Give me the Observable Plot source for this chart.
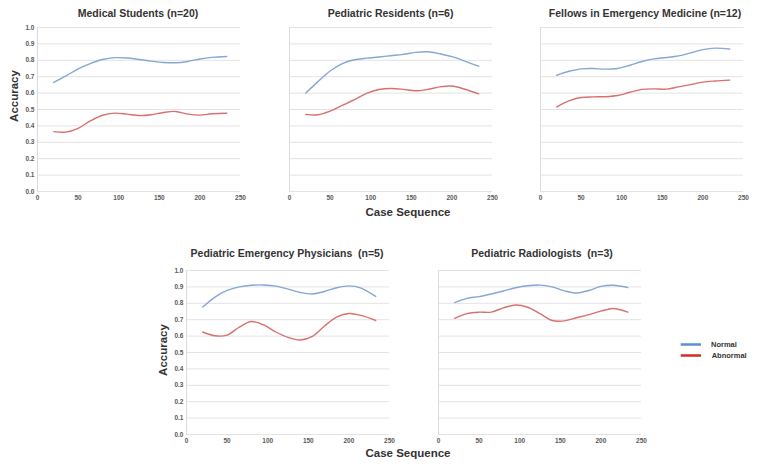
<!DOCTYPE html>
<html>
<head>
<meta charset="utf-8">
<script src="https://cdn.jsdelivr.net/npm/d3@7"></script>
<script src="https://cdn.jsdelivr.net/npm/@observablehq/plot@0.6"></script>
<style>
  html, body { margin: 0; padding: 0; background: #fff; }
  #root { position: relative; width: 763px; height: 468px; overflow: hidden; font-family: "Liberation Sans", Arial, sans-serif; }
  .title { position: absolute; font-weight: bold; font-size: 10.5px; color: #333; white-space: pre; transform: translate(-50%, -50%); }
  .axlab { position: absolute; font-weight: bold; font-size: 11.5px; color: #333; white-space: nowrap; }
</style>
</head>
<body>
<div id="root"></div>
<script>
// ---- Data ----
const caseSeq = [20, 35, 50, 65, 80, 95, 110, 125, 140, 155, 170, 185, 200, 215, 233];
const xTicks = [0, 50, 100, 150, 200, 250];
const yTicks = [0, 0.1, 0.2, 0.3, 0.4, 0.5, 0.6, 0.7, 0.8, 0.9, 1.0];
const seriesNames = ["Normal", "Abnormal"];
const panelTitles = [
  "Medical Students (n=20)",
  "Pediatric Residents (n=6)",
  "Fellows in Emergency Medicine (n=12)",
  "Pediatric Emergency Physicians  (n=5)",
  "Pediatric Radiologists  (n=3)"
];
const medStudentsNormal   = [0.665, 0.705, 0.748, 0.780, 0.805, 0.816, 0.814, 0.805, 0.795, 0.787, 0.785, 0.793, 0.808, 0.818, 0.823];
const medStudentsAbnormal = [0.365, 0.362, 0.385, 0.430, 0.465, 0.478, 0.472, 0.463, 0.468, 0.482, 0.488, 0.472, 0.466, 0.474, 0.477];
const residentsNormal     = [0.600, 0.670, 0.735, 0.780, 0.803, 0.813, 0.820, 0.828, 0.836, 0.848, 0.852, 0.840, 0.822, 0.797, 0.764];
const residentsAbnormal   = [0.470, 0.468, 0.490, 0.525, 0.560, 0.598, 0.622, 0.628, 0.623, 0.614, 0.622, 0.638, 0.643, 0.625, 0.595];
const fellowsNormal       = [0.709, 0.733, 0.748, 0.750, 0.746, 0.750, 0.770, 0.793, 0.809, 0.817, 0.827, 0.845, 0.865, 0.874, 0.869];
const fellowsAbnormal     = [0.516, 0.553, 0.573, 0.577, 0.578, 0.585, 0.605, 0.623, 0.626, 0.624, 0.638, 0.652, 0.667, 0.674, 0.679];
const pemNormal           = [0.777, 0.838, 0.879, 0.900, 0.910, 0.912, 0.905, 0.886, 0.866, 0.857, 0.872, 0.895, 0.906, 0.893, 0.842];
const pemAbnormal         = [0.625, 0.602, 0.606, 0.655, 0.689, 0.668, 0.625, 0.592, 0.576, 0.598, 0.662, 0.716, 0.738, 0.726, 0.695];
const radiologistsNormal  = [0.804, 0.830, 0.841, 0.857, 0.875, 0.895, 0.907, 0.911, 0.900, 0.876, 0.863, 0.878, 0.903, 0.910, 0.896];
const radiologistsAbnormal= [0.708, 0.737, 0.746, 0.746, 0.772, 0.790, 0.776, 0.737, 0.695, 0.693, 0.712, 0.731, 0.752, 0.768, 0.746];

// ---- Layout ----
const lineColors = {Normal: "#86a6d4", Abnormal: "#d9706f"};
const legendColors = {Normal: "#5b8ed8", Abnormal: "#d42a2a"};
const ML = 30, MT = 8, MR = 8, MB = 18, FW = 203, FH = 164;

const panels = [
  {title: panelTitles[0], normal: medStudentsNormal, abnormal: medStudentsAbnormal, left: 36.7, top: 27, yLabels: true, tx: 138, ty: 13},
  {title: panelTitles[1], normal: residentsNormal, abnormal: residentsAbnormal, left: 288.7, top: 27, yLabels: false, tx: 390.5, ty: 13},
  {title: panelTitles[2], normal: fellowsNormal, abnormal: fellowsAbnormal, left: 540, top: 27, yLabels: false, tx: 645, ty: 13},
  {title: panelTitles[3], normal: pemNormal, abnormal: pemAbnormal, left: 185.7, top: 270, yLabels: true, tx: 287, ty: 253},
  {title: panelTitles[4], normal: radiologistsNormal, abnormal: radiologistsAbnormal, left: 437.7, top: 270, yLabels: false, tx: 542, ty: 253}
];

const root = document.getElementById("root");

function makePanel(p) {
  const rows = [];
  caseSeq.forEach((c, i) => {
    rows.push({x: c, y: p.normal[i], s: seriesNames[0]});
    rows.push({x: c, y: p.abnormal[i], s: seriesNames[1]});
  });
  const chart = Plot.plot({
    width: ML + FW + MR,
    height: MT + FH + MB,
    marginLeft: ML, marginRight: MR, marginTop: MT, marginBottom: MB,
    style: {fontFamily: "Liberation Sans, Arial, sans-serif", fontSize: "6.5px", fontWeight: "bold", color: "#5a5a5a", background: "transparent", overflow: "visible"},
    x: {domain: [0, 250], ticks: xTicks, tickSize: 0, tickPadding: 4, tickFormat: d3.format("d"), label: null},
    y: {domain: [0, 1], ticks: yTicks, tickSize: 0, tickPadding: 3, tickFormat: p.yLabels ? d3.format(".1f") : () => "", label: null},
    color: {domain: seriesNames, range: seriesNames.map(s => lineColors[s])},
    marks: [
      Plot.gridY(yTicks, {stroke: "#e3e3e3", strokeOpacity: 1, strokeWidth: 1}),
      Plot.ruleX([0], {stroke: "#dcdcdc", strokeWidth: 1}),
      Plot.line(rows, {x: "x", y: "y", z: "s", stroke: "s", strokeWidth: 1.4, curve: "catmull-rom"})
    ]
  });
  chart.style.position = "absolute";
  chart.style.left = (p.left - ML) + "px";
  chart.style.top = (p.top - MT) + "px";
  root.appendChild(chart);

  const t = document.createElement("div");
  t.className = "title";
  t.textContent = p.title;
  t.style.left = p.tx + "px";
  t.style.top = p.ty + "px";
  root.appendChild(t);
}
panels.forEach(makePanel);

// axis titles
function addLabel(text, x, y, rotate) {
  const d = document.createElement("div");
  d.className = "axlab";
  d.textContent = text;
  d.style.left = x + "px";
  d.style.top = y + "px";
  d.style.transform = "translate(-50%, -50%)" + (rotate ? " rotate(-90deg)" : "");
  root.appendChild(d);
}
addLabel("Case Sequence", 408, 212, false);
addLabel("Case Sequence", 408, 452.5, false);
addLabel("Accuracy", 13.5, 96, true);
addLabel("Accuracy", 162.7, 350, true);

// legend
const leg = d3.select(root).append("svg")
  .attr("width", 90).attr("height", 30)
  .style("position", "absolute").style("left", "676px").style("top", "336px");
seriesNames.forEach((s, i) => {
  const y = 8.5 + i * 11;
  leg.append("line").attr("x1", 4.7).attr("x2", 25).attr("y1", y).attr("y2", y)
    .attr("stroke", legendColors[s]).attr("stroke-width", 2.5);
  leg.append("text").attr("x", 35 + i * 0.7).attr("y", y).attr("dy", "0.35em")
    .attr("font-family", "Liberation Sans, Arial, sans-serif").attr("font-size", 7.5)
    .attr("font-weight", "bold").attr("fill", "#333").text(s);
});
</script>
</body>
</html>
